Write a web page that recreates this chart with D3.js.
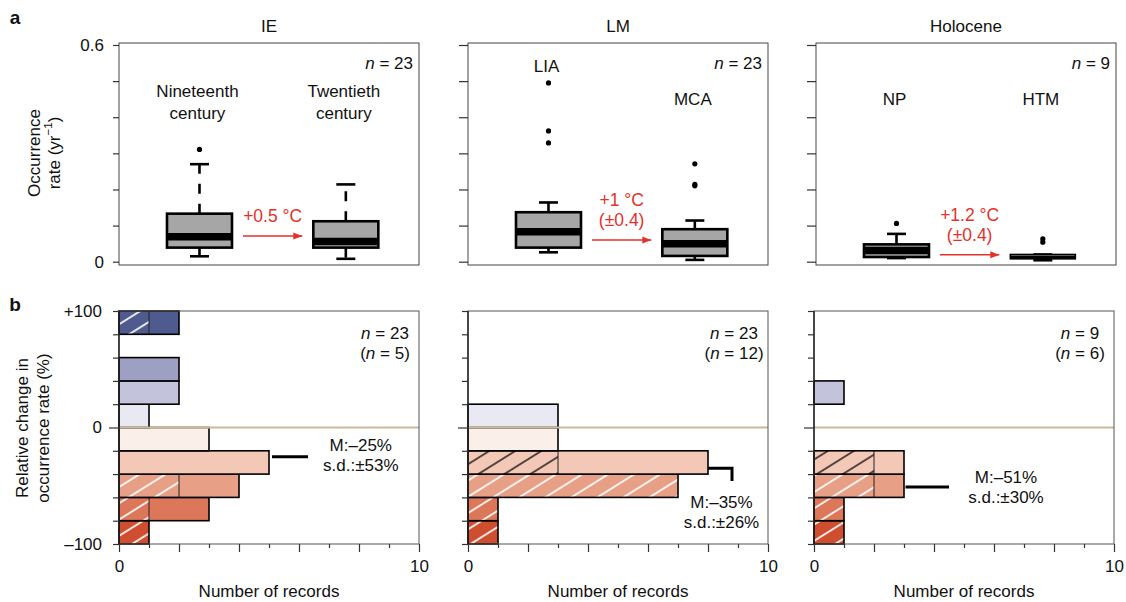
<!DOCTYPE html>
<html>
<head>
<meta charset="utf-8">
<script src="https://cdn.jsdelivr.net/npm/d3@7"></script>
<style>
  body { margin: 0; background: #fff; }
  svg { font-family: "Liberation Sans", Arial, Helvetica, sans-serif; }
</style>
</head>
<body>
<svg id="chart" width="1126" height="602"></svg>
<script>
// ---- data ----
const periods = ['IE', 'LM', 'Holocene'];
const sampleSizes = [23, 23, 9];
const subsetSizes = [5, 12, 6];
const boxNames = [['Nineteenth|century', 'Twentieth|century'], ['LIA', 'MCA'], ['NP', 'HTM']];
// [lower whisker, Q1, median, Q3, upper whisker]
const boxStats = [
  [[0.015, 0.039, 0.069, 0.133, 0.270], [0.008, 0.039, 0.056, 0.112, 0.214]],
  [[0.026, 0.039, 0.083, 0.137, 0.164], [0.005, 0.016, 0.050, 0.090, 0.114]],
  [[0.010, 0.013, 0.031, 0.048, 0.077], [0.004, 0.008, 0.013, 0.020, 0.020]]
];
const outliers = [
  [[0.311], []],
  [[0.495, 0.362, 0.329], [0.271, 0.214, 0.210]],
  [[0.106], [0.063, 0.054]]
];
const warming = [['+0.5 °C'], ['+1 °C', '(±0.4)'], ['+1.2 °C', '(±0.4)']];
const rateTicks = [0, 0.1, 0.2, 0.3, 0.4, 0.5, 0.6];

const binStarts = [-100, -80, -60, -40, -20, 0, 20, 40, 60, 80];
const recordCounts = [
  [1, 3, 4, 5, 3, 1, 2, 2, 0, 2],
  [1, 1, 7, 8, 3, 3, 0, 0, 0, 0],
  [1, 1, 3, 3, 0, 0, 1, 0, 0, 0]
];
const hatchedCounts = [
  [1, 1, 2, 0, 0, 0, 0, 0, 0, 1],
  [1, 1, 7, 3, 0, 0, 0, 0, 0, 0],
  [1, 1, 2, 2, 0, 0, 0, 0, 0, 0]
];
const meanChange = [-25, -35, -51];
const sdChange = [53, 26, 30];
const meanMarkX = [[5.1, 6.3], [8, 8.8], [3.05, 4.5]];
const meanMarkDrop = [null, -46, null];
const changeTicks = [-100, -80, -60, -40, -20, 0, 20, 40, 60, 80, 100];
const countTicks = [0, 1, 2, 3, 4, 5, 6, 7, 8, 9, 10];

// ---- styles / layout ----
const binFills = ['#d04e30', '#dc7759', '#e79f85', '#f3c8b6', '#fbefe9',
                  '#e9e9f4', '#c3c4db', '#9da0c2', '#7880ab', '#4f5b8e'];
const hatchInks = ['w', 'w', 'w', 'b', 'b', 'b', 'w', 'w', 'w', 'w'];
const RED = '#e3322b';
const FS = 17;
const topLeft = [119, 468, 816];
const botLeft = [119, 468, 814];
const W = 300;
const topFrame = [43, 265];
const labelLevels = [[[0.47], [0.47]], [[0.54], [0.45]], [[0.45], [0.45]]];
const arrowLevels = [0.071, 0.060, 0.019];
const statPos = [[8.06, -15.7], [8.45, -64.5], [6.4, -43]];

const svg = d3.select('#chart');
const defs = svg.append('defs');

function makeHatch(id, ink, w) {
  const p = defs.append('pattern')
    .attr('id', id)
    .attr('patternUnits', 'userSpaceOnUse')
    .attr('width', 20)
    .attr('height', 13.8)
    .attr('patternTransform', 'rotate(-32)');
  p.append('line')
    .attr('x1', 0).attr('x2', 20)
    .attr('y1', 6.9).attr('y2', 6.9)
    .attr('stroke', ink)
    .attr('stroke-width', w);
}
makeHatch('hatch-w', '#ffffff', 1.7);
makeHatch('hatch-b', '#000000', 1.3);

defs.append('marker')
  .attr('id', 'arrowhead')
  .attr('viewBox', '0 -4 9 8')
  .attr('refX', 9)
  .attr('markerUnits', 'userSpaceOnUse')
  .attr('markerWidth', 9)
  .attr('markerHeight', 8)
  .attr('orient', 'auto')
  .append('path')
  .attr('d', 'M0,-3.5L9,0L0,3.5Z')
  .attr('fill', RED);

function txt(g, x, y, s, opts = {}) {
  return g.append('text')
    .attr('x', x).attr('y', y)
    .attr('text-anchor', opts.anchor || 'middle')
    .attr('dominant-baseline', 'central')
    .attr('font-size', opts.size || FS)
    .attr('font-weight', opts.weight || null)
    .attr('fill', opts.fill || '#111')
    .text(s);
}

function nLabel(g, x, y, value, anchor, paren) {
  const t = g.append('text')
    .attr('x', x).attr('y', y)
    .attr('text-anchor', anchor)
    .attr('dominant-baseline', 'central')
    .attr('font-size', FS)
    .attr('fill', '#111');
  if (paren) t.append('tspan').text('(');
  t.append('tspan').attr('font-style', 'italic').text('n');
  t.append('tspan').text(' = ' + value + (paren ? ')' : ''));
}

// panel letters
txt(svg, 15, 17, 'a', { weight: 'bold', size: 19 });
txt(svg, 15, 304, 'b', { weight: 'bold', size: 19 });

// ---- top row: boxplots ----
const topY = d3.scaleLinear().domain([0, 0.6]).range([261.7, 45]);

periods.forEach((period, i) => {
  const x0 = topLeft[i];
  const g = svg.append('g');
  const x = d3.scaleLinear().domain([0.45, 2.5]).range([x0, x0 + W]);
  const boxW = 65;
  const capW = 19;

  g.append('rect')
    .attr('x', x0).attr('y', topFrame[0])
    .attr('width', W).attr('height', topFrame[1] - topFrame[0])
    .attr('fill', 'none').attr('stroke', '#444').attr('stroke-width', 1);

  const axis = d3.axisLeft(topY)
    .tickValues(rateTicks)
    .tickSize(i === 0 ? 6 : 9)
    .tickPadding(9)
    .tickFormat(d => i === 0 && (d === 0 || d === 0.6) ? (d === 0 ? '0' : '0.6') : '');
  const ag = g.append('g').attr('transform', `translate(${x0},0)`).call(axis);
  ag.select('.domain').remove();
  ag.selectAll('.tick line').attr('stroke', '#333').attr('stroke-width', 1.2);
  ag.selectAll('.tick text').attr('font-size', FS).attr('fill', '#111')
    .attr('font-family', '"Liberation Sans", Arial, sans-serif');

  txt(g, x0 + W / 2, 26, period);
  nLabel(g, x0 + W - 6, 63, sampleSizes[i], 'end', false);

  boxStats[i].forEach((s, j) => {
    const cx = x(j + 1);
    const [lo, q1, med, q3, hi] = s;
    g.append('line')
      .attr('x1', cx).attr('x2', cx)
      .attr('y1', topY(q3)).attr('y2', topY(hi))
      .attr('stroke', '#000').attr('stroke-width', 2.6)
      .attr('stroke-dasharray', '10,10');
    g.append('line')
      .attr('x1', cx).attr('x2', cx)
      .attr('y1', topY(q1)).attr('y2', topY(lo))
      .attr('stroke', '#000').attr('stroke-width', 2.6)
      .attr('stroke-dasharray', '10,10');
    [lo, hi].forEach(v => {
      g.append('line')
        .attr('x1', cx - capW / 2).attr('x2', cx + capW / 2)
        .attr('y1', topY(v)).attr('y2', topY(v))
        .attr('stroke', '#000').attr('stroke-width', 2.6);
    });
    const bh = topY(q1) - topY(q3);
    g.append('rect')
      .attr('x', cx - boxW / 2).attr('y', topY(q3))
      .attr('width', boxW).attr('height', bh)
      .attr('fill', '#a6a6a6').attr('stroke', '#000').attr('stroke-width', bh < 8 ? 1.6 : 2.6);
    g.append('line')
      .attr('x1', cx - boxW / 2).attr('x2', cx + boxW / 2)
      .attr('y1', topY(med)).attr('y2', topY(med))
      .attr('stroke', '#000').attr('stroke-width', Math.min(7.5, Math.max(2, bh - 2)));
    g.selectAll(null)
      .data(outliers[i][j])
      .enter().append('circle')
      .attr('cx', cx).attr('cy', d => topY(d))
      .attr('r', 2.6).attr('fill', '#000');

    const lines = boxNames[i][j].split('|');
    lines.forEach((ln, k) => {
      txt(g, cx - 2, topY(labelLevels[i][j][0]) + k * 21.5, ln);
    });
  });

  // warming arrow
  const ax1 = x(1) + boxW / 2 + 11;
  const ax2 = x(2) - boxW / 2 - 11;
  const ay = topY(arrowLevels[i]);
  g.append('line')
    .attr('x1', ax1).attr('x2', ax2)
    .attr('y1', ay).attr('y2', ay)
    .attr('stroke', RED).attr('stroke-width', 1.5)
    .attr('marker-end', 'url(#arrowhead)');
  const wl = warming[i];
  wl.forEach((ln, k) => {
    txt(g, (ax1 + ax2) / 2, ay - 20 - 20 * (wl.length - 1 - k), ln, { fill: RED, size: 17.5 });
  });
});

// y title top
const ytTop = svg.append('g').attr('transform', 'translate(34,153) rotate(-90)');
txt(ytTop, 0, 0, 'Occurrence');
const rt = ytTop.append('text')
  .attr('x', 0).attr('y', 20)
  .attr('text-anchor', 'middle')
  .attr('dominant-baseline', 'central')
  .attr('font-size', FS).attr('fill', '#111');
rt.append('tspan').text('rate (yr');
rt.append('tspan').attr('font-size', 11.5).attr('dy', -6).text('−1');
rt.append('tspan').attr('dy', 6).text(')');

// ---- bottom row: histograms ----
const botY = d3.scaleLinear().domain([-100, 100]).range([544, 311]);

periods.forEach((period, i) => {
  const x0 = botLeft[i];
  const g = svg.append('g');
  const x = d3.scaleLinear().domain([0, 10]).range([x0, x0 + W]);

  const bins = binStarts.map((b, k) => ({
    start: b,
    count: recordCounts[i][k],
    hatched: hatchedCounts[i][k],
    fill: binFills[k],
    ink: hatchInks[k]
  })).filter(d => d.count > 0);

  const bar = g.selectAll('g.bar')
    .data(bins)
    .enter().append('g')
    .attr('class', 'bar');

  bar.append('rect')
    .attr('x', x(0))
    .attr('y', d => botY(d.start + 20))
    .attr('width', d => x(d.count) - x(0))
    .attr('height', d => botY(d.start) - botY(d.start + 20))
    .attr('fill', d => d.fill);

  bar.filter(d => d.hatched > 0).append('rect')
    .attr('x', x(0))
    .attr('y', d => botY(d.start + 20))
    .attr('width', d => x(d.hatched) - x(0))
    .attr('height', d => botY(d.start) - botY(d.start + 20))
    .attr('fill', d => d.ink === 'w' ? 'url(#hatch-w)' : 'url(#hatch-b)');

  bar.filter(d => d.hatched > 0 && d.hatched < d.count).append('line')
    .attr('x1', d => x(d.hatched)).attr('x2', d => x(d.hatched))
    .attr('y1', d => botY(d.start + 20)).attr('y2', d => botY(d.start))
    .attr('stroke', '#222').attr('stroke-width', 1);

  bar.append('rect')
    .attr('x', x(0))
    .attr('y', d => botY(d.start + 20))
    .attr('width', d => x(d.count) - x(0))
    .attr('height', d => botY(d.start) - botY(d.start + 20))
    .attr('fill', 'none')
    .attr('stroke', '#000').attr('stroke-width', 1.6);

  // zero line
  g.append('line')
    .attr('x1', x(0)).attr('x2', x(10))
    .attr('y1', botY(0)).attr('y2', botY(0))
    .attr('stroke', '#cbb99b').attr('stroke-width', 1.8);

  // frame
  g.append('rect')
    .attr('x', x0).attr('y', 311)
    .attr('width', W).attr('height', 233)
    .attr('fill', 'none').attr('stroke', '#555').attr('stroke-width', 1);
  g.append('line')
    .attr('x1', x0).attr('x2', x0).attr('y1', 311).attr('y2', 544)
    .attr('stroke', '#111').attr('stroke-width', 1.3);

  // mean marker
  const mk = meanMarkX[i];
  let d = `M${x(mk[0])},${botY(meanChange[i])}H${x(mk[1])}`;
  if (meanMarkDrop[i] !== null) d += `V${botY(meanMarkDrop[i])}`;
  g.append('path').attr('d', d)
    .attr('fill', 'none').attr('stroke', '#000').attr('stroke-width', 3);

  // axes
  const ya = d3.axisLeft(botY)
    .tickValues(changeTicks)
    .tickSize(6)
    .tickPadding(11)
    .tickFormat(v => i === 0 ? (v === 100 ? '+100' : v === 0 ? '0' : v === -100 ? '–100' : '') : '');
  const yg = g.append('g').attr('transform', `translate(${x0},0)`).call(ya);
  yg.select('.domain').remove();
  yg.selectAll('.tick line').attr('stroke', '#333').attr('stroke-width', 1.2)
    .attr('x2', v => v === 0 ? -10 : -6);
  yg.selectAll('.tick text').attr('font-size', FS).attr('fill', '#111')
    .attr('font-family', '"Liberation Sans", Arial, sans-serif');

  const xa = d3.axisBottom(x)
    .tickValues(countTicks)
    .tickSize(8)
    .tickPadding(8)
    .tickFormat(v => (v === 0 || v === 10) ? String(v) : '');
  const xg = g.append('g').attr('transform', 'translate(0,544)').call(xa);
  xg.select('.domain').remove();
  xg.selectAll('.tick line').attr('stroke', '#333').attr('stroke-width', 1.2)
    .attr('y2', v => v % 2 === 0 ? 8 : 4);
  xg.selectAll('.tick text').attr('font-size', FS).attr('fill', '#111')
    .attr('font-family', '"Liberation Sans", Arial, sans-serif');

  txt(g, x0 + W / 2, 591.7, 'Number of records');

  nLabel(g, x0 + W - 34, 333.3, sampleSizes[i], 'middle', false);
  nLabel(g, x0 + W - 34, 353.3, subsetSizes[i], 'middle', true);

  const sp = statPos[i];
  txt(g, x(sp[0]), botY(sp[1]), 'M:–' + Math.abs(meanChange[i]) + '%');
  txt(g, x(sp[0]), botY(sp[1]) + 20, 's.d.:±' + sdChange[i] + '%');
});

// y title bottom
const ytBot = svg.append('g').attr('transform', 'translate(22,428) rotate(-90)');
txt(ytBot, 0, 0, 'Relative change in');
txt(ytBot, 0, 21.6, 'occurrence rate (%)');
</script>
</body>
</html>
